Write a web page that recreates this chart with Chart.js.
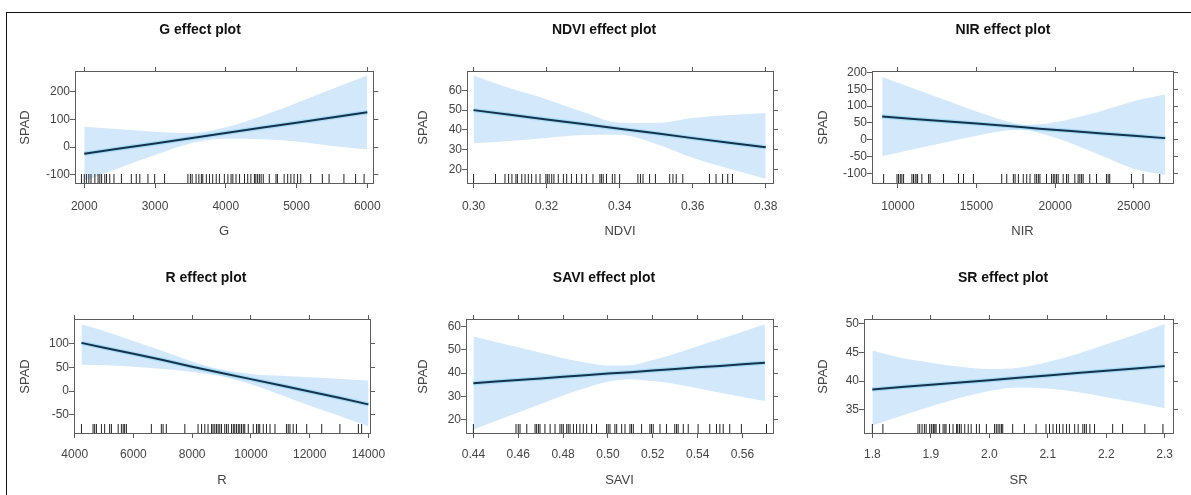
<!DOCTYPE html>
<html>
<head>
<meta charset="utf-8">
<script src="https://cdn.jsdelivr.net/npm/chart.js@4.4.1/dist/chart.umd.min.js"></script>
<style>
    html, body { margin: 0; padding: 0; background: #fff; }
    body { width: 1191px; height: 495px; position: relative; overflow: hidden; }
    canvas { position: absolute; }
    #frame {
        position: absolute; left: 6px; top: 12px; width: 1200px; height: 500px;
        border-top: 1px solid #111; border-left: 1px solid #111; pointer-events: none;
    }
</style>
</head>
<body>
<div id="frame"></div>
<script>
// ---- G ----
const gX     = [2000, 2500, 3000, 3500, 4000, 4500, 5000, 5500, 6000];
const gFit   = [-24, -5, 13, 32, 51, 70, 88, 107, 126];
const gUpper = [74, 65, 56, 51, 72, 112, 160, 210, 260];
const gLower = [-122, -75, -29, 13, 30, 28, 20, 4, -8];
const gRug   = [1960, 2000, 2030, 2065, 2095, 2150, 2195, 2220, 2245, 2290, 2315, 2360, 2420, 2525,
                2665, 2735, 2785, 2900, 2995, 3135, 3465, 3500, 3525, 3580, 3620, 3655, 3675, 3725,
                3770, 3815, 3865, 3910, 3980, 4030, 4075, 4100, 4145, 4195, 4265, 4310, 4355, 4405,
                4425, 4450, 4475, 4500, 4530, 4615, 4710, 4730, 4825, 4875, 4920, 4965, 5015, 5060,
                5200, 5365, 5460, 5670, 5835, 5955];
const gXTicks = [2000, 3000, 4000, 5000, 6000];
const gYTicks = [-100, 0, 100, 200];

// ---- NDVI ----
const ndviX     = [0.30, 0.31, 0.32, 0.33, 0.34, 0.35, 0.36, 0.37, 0.38];
const ndviFit   = [50, 47.7, 45.3, 43, 40.6, 38.3, 35.9, 33.6, 31.3];
const ndviUpper = [67.5, 61, 55.5, 49, 43.6, 43.5, 46, 47.5, 48.5];
const ndviLower = [33.3, 34.5, 36, 37.5, 37.6, 33, 26, 20.5, 15.5];
const ndviRug   = [0.300, 0.306, 0.3086, 0.3096, 0.3105, 0.3116, 0.312, 0.3132, 0.3141, 0.315,
                   0.3159, 0.3171, 0.3182, 0.3198, 0.3202, 0.3207, 0.3214, 0.322, 0.3232, 0.3246,
                   0.3255, 0.3268, 0.3282, 0.3296, 0.3309, 0.3327, 0.3346, 0.335, 0.3355, 0.3364,
                   0.338, 0.3387, 0.34, 0.345, 0.3457, 0.3464, 0.3482, 0.3498, 0.3537, 0.3546,
                   0.3555, 0.3573, 0.3646, 0.3664, 0.3682, 0.3696, 0.3709];
const ndviXTicks = [0.30, 0.32, 0.34, 0.36, 0.38];
const ndviYTicks = [20, 30, 40, 50, 60];

// ---- NIR ----
const nirX     = [9000, 11000, 13000, 15000, 17000, 18000, 19000, 21000, 23000, 25000, 27000];
const nirFit   = [69, 62, 55, 48, 41, 37, 33, 26, 19, 12, 5];
const nirUpper = [186, 152, 118, 84, 54, 44, 46, 62, 86, 114, 134];
const nirLower = [-48, -28, -8, 12, 28, 30, 20, -10, -48, -86, -104];
const nirRug   = [9090, 9940, 10040, 10150, 10250, 10360, 10890, 10990, 11100, 11210, 11250, 11520,
                  11950, 12050, 12900, 13850, 14170, 14800, 16600, 16920, 17340, 17450, 17660, 17970,
                  18190, 18400, 18710, 18820, 18930, 19030, 19450, 19770, 19880, 19980, 20090, 20190,
                  20510, 20720, 20830, 21250, 21460, 21570, 21680, 21780, 22200, 22630, 23260, 23370,
                  23470, 24850, 25590, 26650];
const nirXTicks = [10000, 15000, 20000, 25000];
const nirYTicks = [-100, -50, 0, 50, 100, 150, 200];

// ---- R ----
const rX     = [4230, 5000, 6000, 7000, 8000, 9000, 10000, 11000, 12000, 13000, 14000];
const rFit   = [101, 91, 78, 65, 51, 38, 25, 12, -1, -14, -28];
const rUpper = [140, 126, 105, 84, 62, 45, 36, 32, 29, 26, 22];
const rLower = [55, 54, 51, 46, 40, 31, 14, -8, -31, -52, -74];
const rRug   = [4230, 4625, 4680, 4740, 4910, 5020, 5190, 5250, 5480, 5590, 5650, 5700, 5760, 6610,
                6950, 7010, 7120, 7750, 8200, 8320, 8430, 8540, 8660, 8710, 8770, 8830, 8885, 8940,
                9000, 9110, 9170, 9230, 9340, 9400, 9450, 9510, 9570, 9620, 9680, 9740, 9790, 9910,
                10080, 10190, 10250, 10300, 10420, 10530, 10650, 10820, 11210, 11270, 11330, 11440,
                11550, 11900, 12410, 13030, 13660, 13770];
const rXTicks = [4000, 6000, 8000, 10000, 12000, 14000];
const rYTicks = [-50, 0, 50, 100];

// ---- SAVI ----
const saviX     = [0.44, 0.45, 0.46, 0.47, 0.48, 0.49, 0.50, 0.51, 0.52, 0.53, 0.54, 0.55, 0.56, 0.57];
const saviFit   = [35.7, 36.4, 37.1, 37.7, 38.4, 39.1, 39.8, 40.4, 41.1, 41.8, 42.5, 43.1, 43.8, 44.5];
const saviUpper = [55.7, 53.4, 51.1, 48.7, 46.4, 44.6, 43.3, 43.4, 45.6, 48.3, 51.5, 54.6, 57.8, 61];
const saviLower = [15.7, 19.4, 23.1, 26.7, 30.4, 33.6, 36.3, 37.4, 36.6, 35.3, 33.5, 31.6, 29.8, 28];
const saviRug   = [0.4400, 0.4590, 0.4600, 0.4608, 0.4638, 0.4675, 0.4682, 0.4690, 0.4697, 0.4719,
                   0.4742, 0.4764, 0.4786, 0.4794, 0.4801, 0.4816, 0.4823, 0.4831, 0.4846, 0.4860,
                   0.4875, 0.4890, 0.4905, 0.4927, 0.4949, 0.4994, 0.5001, 0.5009, 0.5031, 0.5039,
                   0.5061, 0.5076, 0.5098, 0.5105, 0.5113, 0.5150, 0.5187, 0.5194, 0.5202, 0.5232,
                   0.5261, 0.5298, 0.5306, 0.5313, 0.5336, 0.5358, 0.5402, 0.5454, 0.5484, 0.5499,
                   0.5514, 0.5543, 0.5595, 0.5707];
const saviXTicks = [0.44, 0.46, 0.48, 0.50, 0.52, 0.54, 0.56];
const saviYTicks = [20, 30, 40, 50, 60];

// ---- SR ----
const srX     = [1.80, 1.85, 1.90, 1.95, 2.00, 2.05, 2.10, 2.15, 2.20, 2.25, 2.30];
const srFit   = [38.55, 38.96, 39.36, 39.77, 40.17, 40.58, 40.98, 41.39, 41.79, 42.2, 42.6];
const srUpper = [45.3, 44.0, 43.2, 42.5, 42.1, 42.3, 43.3, 44.7, 46.4, 48.1, 49.9];
const srLower = [32.3, 34.0, 35.6, 37.1, 38.3, 38.9, 38.7, 38.1, 37.2, 36.3, 35.3];
const srRug   = [1.800, 1.818, 1.878, 1.881, 1.885, 1.889, 1.892, 1.898, 1.901, 1.904, 1.905, 1.907,
                 1.909, 1.915, 1.921, 1.924, 1.926, 1.932, 1.938, 1.944, 1.946, 1.949, 1.952, 1.958,
                 1.964, 1.969, 1.978, 1.983, 1.995, 2.009, 2.012, 2.015, 2.018, 2.021, 2.023, 2.040,
                 2.060, 2.080, 2.097, 2.103, 2.109, 2.115, 2.120, 2.126, 2.132, 2.137, 2.146, 2.152,
                 2.160, 2.163, 2.166, 2.172, 2.180, 2.211, 2.228, 2.266, 2.297];
const srXTicks = [1.8, 1.9, 2.0, 2.1, 2.2, 2.3];
const srYTicks = [35, 40, 45, 50];

// Panel table built from the arrays above (axis ranges)
const panels = [
    { name: 'G',    x: gX,    fit: gFit,    upper: gUpper,    lower: gLower,    rug: gRug,    xTicks: gXTicks,    yTicks: gYTicks,    xMin: 1869,   xMax: 6085,   yMin: -130, yMax: 272,  dec: 0 },
    { name: 'NDVI', x: ndviX, fit: ndviFit, upper: ndviUpper, lower: ndviLower, rug: ndviRug, xTicks: ndviXTicks, yTicks: ndviYTicks, xMin: 0.2982, xMax: 0.382,  yMin: 13.3, yMax: 69.2, dec: 2 },
    { name: 'NIR',  x: nirX,  fit: nirFit,  upper: nirUpper,  lower: nirLower,  rug: nirRug,  xTicks: nirXTicks,  yTicks: nirYTicks,  xMin: 8350,   xMax: 27494,  yMin: -128, yMax: 201,  dec: 0 },
    { name: 'R',    x: rX,    fit: rFit,    upper: rUpper,    lower: rLower,    rug: rRug,    xTicks: rXTicks,    yTicks: rYTicks,    xMin: 3976,   xMax: 14055,  yMin: -88,  yMax: 149,  dec: 0 },
    { name: 'SAVI', x: saviX, fit: saviFit, upper: saviUpper, lower: saviLower, rug: saviRug, xTicks: saviXTicks, yTicks: saviYTicks, xMin: 0.4367, xMax: 0.5736, yMin: 14.3, yMax: 62.8, dec: 2 },
    { name: 'SR',   x: srX,   fit: srFit,   upper: srUpper,   lower: srLower,   rug: srRug,   xTicks: srXTicks,   yTicks: srYTicks,   xMin: 1.7857, xMax: 2.3142, yMin: 31,   yMax: 50.6, dec: 1 }
];

// Page geometry: canvas extents and plot-box edges, per column and row
const cols = [
    [{ left: 8,   right: 392,  boxL: 75,  boxR: 374,  spadX: 25  },
     { left: 410, right: 798,  boxL: 467, boxR: 773,  spadX: 423 },
     { left: 815, right: 1191, boxL: 872, boxR: 1173, spadX: 823 }],
    [{ left: 8,   right: 404,  boxL: 74,  boxR: 370,  spadX: 25  },
     { left: 410, right: 798,  boxL: 466, boxR: 773,  spadX: 423 },
     { left: 815, right: 1191, boxL: 864, boxR: 1173, spadX: 823 }]
];
const rows = [
    { top: 13,  bottom: 248, boxT: 72,  boxB: 183, titleY: 30,  xTitleY: 231, tickPad: 11 },
    { top: 262, bottom: 495, boxT: 320, boxB: 433, titleY: 278, xTitleY: 480, tickPad: 9 }
];

const FONT = "'Liberation Sans', Arial, sans-serif";
const FRAME = '#5c5c5c';
const TEXT = '#444';
const TITLE_SIZE = 14, AXIS_SIZE = 13, TICK_SIZE = 12;

function drawPanel(p, idx) {
    const r = rows[Math.floor(idx / 3)];
    const g = cols[Math.floor(idx / 3)][idx % 3];

    const canvas = document.createElement('canvas');
    canvas.width = g.right - g.left;
    canvas.height = r.bottom - r.top;
    canvas.style.left = g.left + 'px';
    canvas.style.top = r.top + 'px';
    document.body.appendChild(canvas);

    // title box sizing
    const titleLH = TITLE_SIZE * 1.2;
    const titlePadTop = r.titleY - r.top - titleLH / 2;
    const titleBottom = r.top + titlePadTop + titleLH + 4;
    const axisLH = AXIS_SIZE * 1.2;

    // rug sits on the bottom edge of the plot box
    const rugY = p.yMin + (p.yMax - p.yMin) * 4.5 / (r.boxB - r.boxT);
    const pts = (xs, ys) => xs.map((x, i) => ({ x: x, y: ys[i] }));
    const fmt = v => Number(v).toFixed(p.dec);
    const grid = { display: true, drawOnChartArea: false, drawTicks: true, tickLength: 5, color: FRAME, lineWidth: 1 };
    const border = { display: true, color: FRAME, width: 1 };
    const tickFont = { family: FONT, size: TICK_SIZE };

    new Chart(canvas.getContext('2d'), {
        type: 'line',
        data: {
            datasets: [
                {   // confidence band (upper edge, filled down to lower edge)
                    data: pts(p.x, p.upper), fill: '+1', backgroundColor: '#d3e8fb',
                    borderColor: 'rgba(0,0,0,0)', borderWidth: 0, pointRadius: 0,
                    cubicInterpolationMode: 'monotone', order: 4
                },
                {
                    data: pts(p.x, p.lower), fill: false,
                    borderColor: 'rgba(0,0,0,0)', borderWidth: 0, pointRadius: 0,
                    cubicInterpolationMode: 'monotone', order: 4
                },
                {   // fitted effect
                    data: pts(p.x, p.fit), fill: false, borderColor: '#15324c', borderWidth: 2,
                    pointRadius: 0, order: 1
                },
                {   // light halo under the fitted line
                    data: pts(p.x, p.fit), fill: false, borderColor: '#a9dcf6', borderWidth: 4.5,
                    pointRadius: 0, order: 3
                },
                {   // rug of observed values
                    data: p.rug.map(v => ({ x: v, y: rugY })), showLine: false,
                    pointStyle: 'line', pointRotation: 90, pointRadius: 4.5,
                    pointBorderColor: '#222', pointBorderWidth: 1, pointHoverRadius: 0, order: 2
                }
            ]
        },
        options: {
            responsive: false,
            animation: false,
            devicePixelRatio: 1,
            layout: { padding: 0 },
            plugins: {
                legend: { display: false },
                tooltip: { enabled: false },
                title: {
                    display: true, text: p.name + ' effect plot', color: '#111',
                    font: { family: FONT, size: TITLE_SIZE, weight: 'bold', lineHeight: 1.2 },
                    padding: { top: titlePadTop, bottom: 4 }
                }
            },
            scales: {
                x: {
                    type: 'linear', position: 'bottom', min: p.xMin, max: p.xMax,
                    afterBuildTicks: s => { s.ticks = p.xTicks.map(v => ({ value: v })); },
                    afterFit: s => { s.height = r.bottom - r.boxB; },
                    ticks: { callback: fmt, font: tickFont, color: TEXT, padding: r.tickPad, autoSkip: false, maxRotation: 0, minRotation: 0 },
                    grid: grid, border: border,
                    title: {
                        display: true, text: p.name, color: TEXT,
                        font: { family: FONT, size: AXIS_SIZE, lineHeight: 1.2 },
                        padding: { top: 0, bottom: r.bottom - r.xTitleY - axisLH / 2 }
                    }
                },
                x2: {
                    type: 'linear', position: 'top', min: p.xMin, max: p.xMax,
                    afterBuildTicks: s => { s.ticks = p.xTicks.map(v => ({ value: v })); },
                    afterFit: s => { s.height = r.boxT - titleBottom; },
                    ticks: { display: false },
                    grid: grid, border: border
                },
                y: {
                    type: 'linear', position: 'left', min: p.yMin, max: p.yMax,
                    afterBuildTicks: s => { s.ticks = p.yTicks.map(v => ({ value: v })); },
                    afterFit: s => { s.width = g.boxL - g.left; },
                    ticks: { callback: v => String(v), font: tickFont, color: TEXT, padding: 0, autoSkip: false },
                    grid: grid, border: border,
                    title: {
                        display: true, text: 'SPAD', color: TEXT,
                        font: { family: FONT, size: AXIS_SIZE, lineHeight: 1.2 },
                        padding: { top: g.spadX - g.left - axisLH / 2, bottom: 0 }
                    }
                },
                y2: {
                    type: 'linear', position: 'right', min: p.yMin, max: p.yMax,
                    afterBuildTicks: s => { s.ticks = p.yTicks.map(v => ({ value: v })); },
                    afterFit: s => { s.width = g.right - g.boxR; },
                    ticks: { display: false },
                    grid: grid, border: border
                }
            }
        }
    });
}

panels.forEach(drawPanel);
</script>
</body>
</html>
